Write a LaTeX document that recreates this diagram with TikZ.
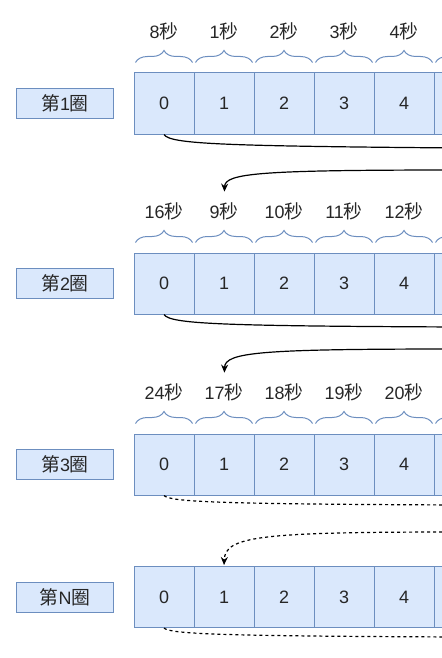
\documentclass[tikz,border=0pt]{standalone}
\usepackage{fontspec}
\setmainfont{Liberation Sans}
\newfontfamily\cjk[Scale=1.05]{Noto Sans CJK SC}
\usetikzlibrary{arrows.meta,positioning,decorations.pathreplacing}
\definecolor{cellblue}{HTML}{DAE8FC}
\definecolor{bordblue}{HTML}{6C8EBF}
\newcommand{\quan}[1]{{\cjk 第}#1{\cjk 圈}}
\newcommand{\miao}[1]{#1{\cjk 秒}}

\begin{document}
\begin{tikzpicture}
  [x=1bp,y=-1bp,
   every node/.style={font=\fontsize{18}{20}\selectfont,text=black!85},
   cell/.style={draw=bordblue,fill=cellblue,line width=1bp,minimum width=60bp,minimum height=61bp,inner sep=0pt},
   ring/.style={draw=bordblue,fill=cellblue,line width=1bp,minimum width=96bp,minimum height=30bp,inner sep=0pt},
   sec/.style={inner sep=1bp,text height=13bp,text depth=4bp},
   brace/.style={draw=bordblue,line width=1bp,decorate,decoration={brace,amplitude=12bp,aspect=0.5}},
   link/.style={line width=1.2bp},
   back/.style={line width=1.2bp,-{Stealth[length=8bp,width=7bp]}},
   dots/.style={dash pattern=on 3bp off 3bp}]
  \useasboundingbox (0,0) rectangle (442,658);
  % rows of cells (the last cell runs off the page)
  \foreach \r/\y in {1/103.5,2/283.5,3/464.5,N/597}{
    \foreach \i in {0,...,4}
      \node[cell] (c\r-\i) at (164+60*\i,\y) {\i};
    \node[cell] (c\r-5) at (464,\y) {};
    \node[ring,left=20bp of c\r-0] (q\r) {\quan{\r}};
  }
  % seconds above the cells
  \foreach \r/\a/\b in {1/8/1,2/16/9,3/24/17}{
    \node[sec] (t\r-0) at ([yshift=38.7bp]c\r-0.north) {\miao{\a}};
    \foreach \i in {1,...,4}{
      \pgfmathtruncatemacro\s{\b+\i-1}
      \node[sec] (t\r-\i) at ([yshift=38.7bp]c\r-\i.north) {\miao{\s}};
    }
    \foreach \i in {0,...,5}
      \draw[brace] ([shift={(2bp,10bp)}]c\r-\i.north west) -- ([shift={(-2bp,10bp)}]c\r-\i.north east);
  }
  % free ends off the right edge
  \coordinate (o1) at (460,148);
  \coordinate (i1) at (460,170);
  \coordinate (o2) at (460,327);
  \coordinate (i2) at (460,349);
  \coordinate (o3) at (460,505);
  \coordinate (i3) at (460,532);
  \coordinate (oN) at (460,637);
  \draw[link] (c1-0.south) .. controls (170,144) and (220,146) .. (o1);
  \draw[back,shorten >=12.5bp] (i1) .. controls (260,170) and (225,173) .. (t2-1.north);
  \draw[link] (c2-0.south) .. controls (170,324) and (220,326) .. (o2);
  \draw[back,shorten >=12.5bp] (i2) .. controls (260,349) and (225,352) .. (t3-1.north);
  \draw[link,dots] (c3-0.south) .. controls (170,502) and (220,504) .. (o3);
  \draw[back,dots,shorten >=1bp] (i3) .. controls (260,532) and (225,536) .. (cN-1.north);
  \draw[link,dots] (cN-0.south) .. controls (170,634) and (220,636) .. (oN);
\end{tikzpicture}
\end{document}
